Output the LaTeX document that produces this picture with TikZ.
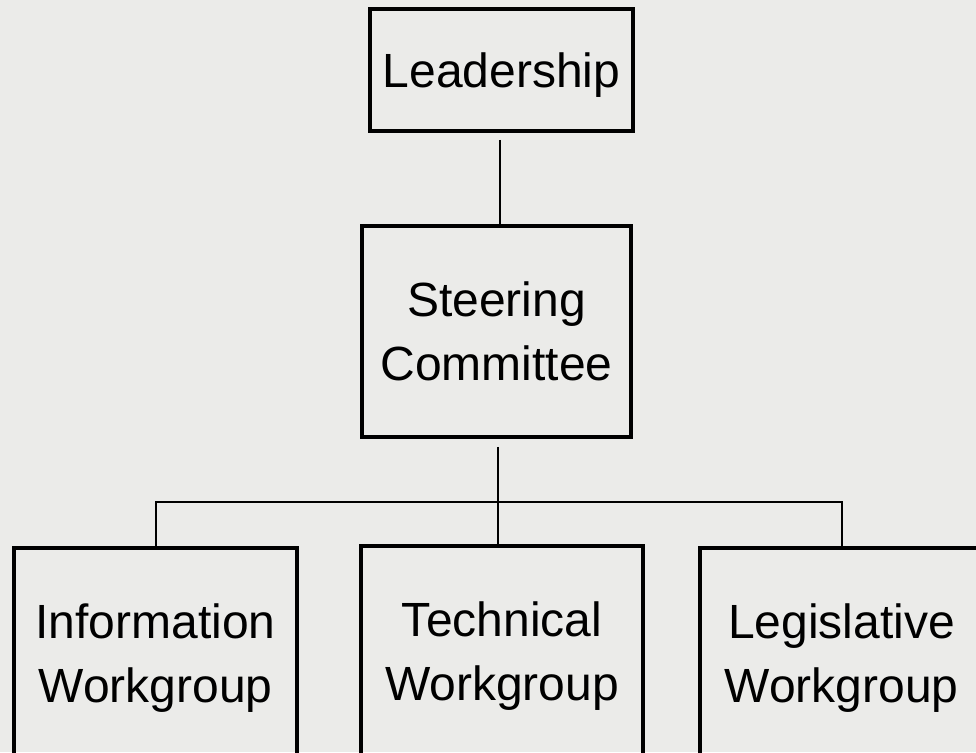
\documentclass[tikz,border=0pt]{standalone}
\usepackage{fontspec}
\setmainfont{Liberation Sans}
\usetikzlibrary{positioning}
\definecolor{paper}{HTML}{EBEBE9}
\tikzset{unitbox/.style = {draw, line width=3.5pt, align=center, inner sep=0pt,
                           text depth=0pt, font=\fontsize{48}{64}\selectfont},
         link/.style = {line width=2pt}}

\begin{document}
\begin{tikzpicture}[x=1pt, y=1pt]
      \fill [paper] (0, 0) rectangle (976, -752);
      \useasboundingbox (0, 0) rectangle (976, -752);
      \clip (0, 0) rectangle (976, -752);

      \node [unitbox, minimum width=263, minimum height=122] (lead) at (501.5, -70) {Leadership};
      \node [unitbox, minimum width=269, minimum height=211] (steer) at (496.5, -331.5) {Steering\\Committee};

      \node [unitbox, minimum width=283, minimum height=211] (info) at (155.5, -653.5) {Information\\Workgroup};
      \node [unitbox, minimum width=282, minimum height=211] (tech) at (502, -651.5) {Technical\\Workgroup};
      \node [unitbox, minimum width=283, minimum height=211] (legis) at (841.5, -653.5) {Legislative\\Workgroup};

      \draw [link, shorten <=7pt] ([xshift=-1.5pt]lead.south) -- ([xshift=-1.5pt]lead.south |- steer.north);
      \draw [link, shorten <=8pt] ([xshift=1.5pt]steer.south) -- ([xshift=1.5pt]steer.south |- tech.north);
      \draw [link] (info.north) -- ([yshift=44pt]info.north) -| (legis.north);
    \end{tikzpicture}
\end{document}
